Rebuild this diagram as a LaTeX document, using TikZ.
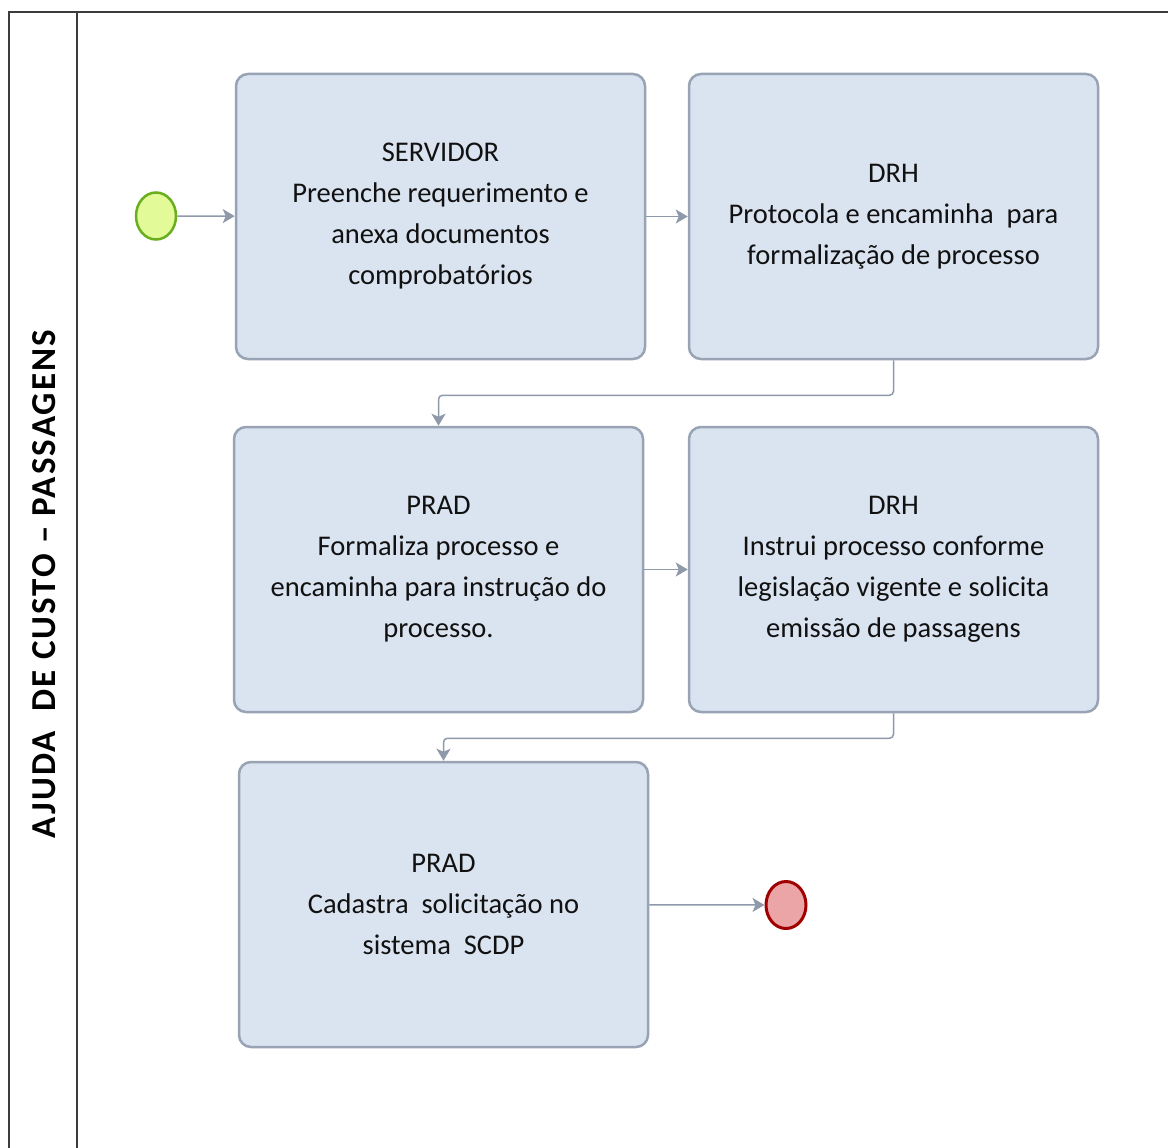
\documentclass[tikz,border=0pt]{standalone}
\usepackage{fontspec}
\setmainfont{Carlito}
\newfontfamily\lanefont[LetterSpace=6]{Carlito}
\usetikzlibrary{arrows.meta,shapes.geometric}
\definecolor{boxfill}{HTML}{DAE3F0}
\definecolor{boxline}{HTML}{98A3B3}
\definecolor{flow}{HTML}{8E9AAA}
\definecolor{startfill}{HTML}{E2FA98}
\definecolor{startline}{HTML}{6AAE1E}
\definecolor{endfill}{HTML}{EBA5A7}
\definecolor{endline}{HTML}{A00000}
\definecolor{poolcol}{HTML}{3C3C3C}
\definecolor{txt}{HTML}{111111}
\begin{document}
\begin{tikzpicture}[x=1pt,y=-1pt,
  task/.style={draw=boxline, fill=boxfill, line width=2.5pt, rounded corners=12pt,
    minimum width=409pt, minimum height=285pt, align=center, text=txt,
    font=\fontsize{28.5}{41}\selectfont, inner sep=0pt},
  flowline/.style={draw=flow, line width=1.5pt, -{Stealth[length=12pt,width=14pt,inset=3pt]}},
  startev/.style={ellipse, draw=startline, fill=startfill, line width=2.5pt, minimum width=40pt, minimum height=47pt, inner sep=0pt},
  endev/.style={ellipse, draw=endline, fill=endfill, line width=3pt, minimum width=40pt, minimum height=47pt, inner sep=0pt},
  poolline/.style={draw=poolcol, line width=2pt},
  lanetitle/.style={rotate=90, text=black, font=\lanefont\bfseries\fontsize{35}{40}\selectfont, inner sep=0pt}]
\useasboundingbox (0,0) rectangle (1168,1148);
\fill[white] (0,0) rectangle (1168,1148);
% pool and lane
\draw[poolline] (1168,12) -- (9,12) -- (9,1148);
\draw[poolline] (77,12) -- (77,1148);
\node[lanetitle] (lane) at (44,584) {AJUDA\ \ DE CUSTO – PASSAGENS};
% tasks
\node[task] (b1) at (440.5,216.5) {SERVIDOR\\Preenche requerimento e\\anexa documentos\\comprobatórios};
\node[task] (b2) at (893.5,216.5) {DRH\\Protocola e encaminha\ \ para\\formalização de processo};
\node[task] (b3) at (438.5,569.5) {PRAD\\Formaliza processo e\\encaminha para instrução do\\processo.};
\node[task] (b4) at (893.5,569.5) {DRH\\Instrui processo conforme\\legislação vigente e solicita\\emissão de passagens};
\node[task] (b5) at (443.5,904.5) {PRAD\\Cadastra\ \ solicitação no\\sistema\ \ SCDP};
% events
\node[startev] (s) at (156,216) {};
\node[endev] (e) at (786,905) {};
% flows
\draw[flowline] (s) -- (b1);
\draw[flowline] (b1) -- (b2);
\draw[flowline, rounded corners=4pt] (b2.south) -- ++(0,35) -| (b3.north);
\draw[flowline] (b3) -- (b4);
\draw[flowline, rounded corners=4pt] (b4.south) -- ++(0,25) -| (b5.north);
\draw[flowline] (b5) -- (e);
\end{tikzpicture}
\end{document}
